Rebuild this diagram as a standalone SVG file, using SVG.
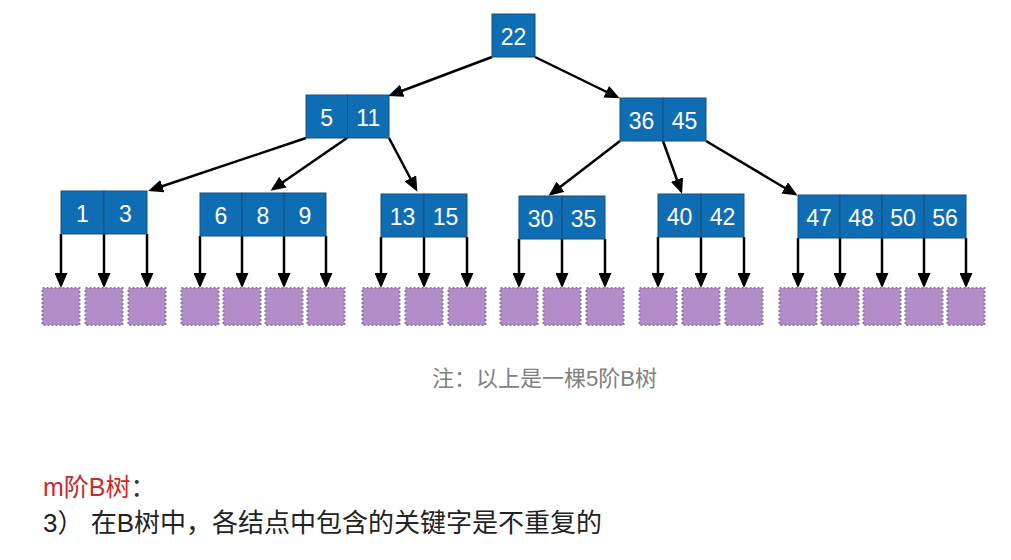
<svg xmlns="http://www.w3.org/2000/svg" width="1011" height="560" viewBox="0 0 1011 560">
<style>
.cell{fill:#0F6DB3;stroke:#17507F;stroke-width:1}
.k{font-family:"Liberation Sans",Arial,sans-serif;font-size:23px;fill:#fff;text-anchor:middle}
.leaf{fill:#B28DCA;stroke:#8B7B96;stroke-width:2;stroke-dasharray:2 2}
.e{stroke:#000;stroke-width:2.5;fill:none;marker-end:url(#ah)}
.t{font-family:"Liberation Sans","Noto Sans CJK SC",sans-serif}
</style>
<defs>
<marker id="ah" markerUnits="userSpaceOnUse" markerWidth="15" markerHeight="13" refX="12" refY="6.5" orient="auto">
<path d="M0,0 L15,6.5 L0,13 z" fill="#000"/>
</marker>
</defs>
<rect width="1011" height="560" fill="#fff"/>
<g id="connectors">
<line class="e" x1="492" y1="57" x2="391" y2="95"/>
<line class="e" x1="535" y1="57" x2="617" y2="97"/>
<line class="e" x1="306" y1="138" x2="151" y2="190"/>
<line class="e" x1="347" y1="138" x2="273" y2="189"/>
<line class="e" x1="389" y1="138" x2="416" y2="189"/>
<line class="e" x1="620" y1="141" x2="551" y2="194"/>
<line class="e" x1="663" y1="141" x2="681" y2="191"/>
<line class="e" x1="706" y1="141" x2="795" y2="194"/>
<g id="down-arrows">
<line class="e" x1="61" y1="234" x2="61" y2="285"/>
<line class="e" x1="104" y1="234" x2="104" y2="285"/>
<line class="e" x1="147" y1="234" x2="147" y2="285"/>
<line class="e" x1="200" y1="236" x2="200" y2="285"/>
<line class="e" x1="242" y1="236" x2="242" y2="285"/>
<line class="e" x1="284" y1="236" x2="284" y2="285"/>
<line class="e" x1="326" y1="236" x2="326" y2="285"/>
<line class="e" x1="381" y1="237" x2="381" y2="285"/>
<line class="e" x1="424" y1="237" x2="424" y2="285"/>
<line class="e" x1="467" y1="237" x2="467" y2="285"/>
<line class="e" x1="519" y1="239" x2="519" y2="285"/>
<line class="e" x1="562" y1="239" x2="562" y2="285"/>
<line class="e" x1="605" y1="239" x2="605" y2="285"/>
<line class="e" x1="658" y1="237" x2="658" y2="285"/>
<line class="e" x1="701" y1="237" x2="701" y2="285"/>
<line class="e" x1="744" y1="237" x2="744" y2="285"/>
<line class="e" x1="798" y1="238" x2="798" y2="285"/>
<line class="e" x1="840" y1="238" x2="840" y2="285"/>
<line class="e" x1="882" y1="238" x2="882" y2="285"/>
<line class="e" x1="924" y1="238" x2="924" y2="285"/>
<line class="e" x1="966" y1="238" x2="966" y2="285"/>
</g>
</g>
<g id="node-22">
<rect class="cell" x="492" y="14" width="43" height="43"/>
<text class="k" x="513.5" y="44.5">22</text>
</g>
<g id="node-5-11">
<rect class="cell" x="306" y="95" width="41.5" height="43"/>
<rect class="cell" x="347.5" y="95" width="41.5" height="43"/>
<text class="k" x="326.75" y="125.5">5</text>
<text class="k" x="368.25" y="125.5">11</text>
</g>
<g id="node-36-45">
<rect class="cell" x="620" y="98" width="43" height="43"/>
<rect class="cell" x="663" y="98" width="43" height="43"/>
<text class="k" x="641.5" y="128.5">36</text>
<text class="k" x="684.5" y="128.5">45</text>
</g>
<g id="node-1-3">
<rect class="cell" x="61" y="191" width="43" height="43"/>
<rect class="cell" x="104" y="191" width="43" height="43"/>
<text class="k" x="82.5" y="221.5">1</text>
<text class="k" x="125.5" y="221.5">3</text>
</g>
<g id="node-6-8-9">
<rect class="cell" x="200" y="193" width="42" height="43"/>
<rect class="cell" x="242" y="193" width="42" height="43"/>
<rect class="cell" x="284" y="193" width="42" height="43"/>
<text class="k" x="221" y="223.5">6</text>
<text class="k" x="263" y="223.5">8</text>
<text class="k" x="305" y="223.5">9</text>
</g>
<g id="node-13-15">
<rect class="cell" x="381" y="194" width="43" height="43"/>
<rect class="cell" x="424" y="194" width="43" height="43"/>
<text class="k" x="402.5" y="224.5">13</text>
<text class="k" x="445.5" y="224.5">15</text>
</g>
<g id="node-30-35">
<rect class="cell" x="519" y="196" width="43" height="43"/>
<rect class="cell" x="562" y="196" width="43" height="43"/>
<text class="k" x="540.5" y="226.5">30</text>
<text class="k" x="583.5" y="226.5">35</text>
</g>
<g id="node-40-42">
<rect class="cell" x="658" y="194" width="43" height="43"/>
<rect class="cell" x="701" y="194" width="43" height="43"/>
<text class="k" x="679.5" y="224.5">40</text>
<text class="k" x="722.5" y="224.5">42</text>
</g>
<g id="node-47-48-50-56">
<rect class="cell" x="798" y="195" width="42" height="43"/>
<rect class="cell" x="840" y="195" width="42" height="43"/>
<rect class="cell" x="882" y="195" width="42" height="43"/>
<rect class="cell" x="924" y="195" width="42" height="43"/>
<text class="k" x="819" y="225.5">47</text>
<text class="k" x="861" y="225.5">48</text>
<text class="k" x="903" y="225.5">50</text>
<text class="k" x="945" y="225.5">56</text>
</g>
<g id="leaves">
<g id="leaf-1"><rect class="leaf" x="42.5" y="288" width="37" height="37"/></g>
<g id="leaf-2"><rect class="leaf" x="85.5" y="288" width="37" height="37"/></g>
<g id="leaf-3"><rect class="leaf" x="128.5" y="288" width="37" height="37"/></g>
<g id="leaf-4"><rect class="leaf" x="181.5" y="288" width="37" height="37"/></g>
<g id="leaf-5"><rect class="leaf" x="223.5" y="288" width="37" height="37"/></g>
<g id="leaf-6"><rect class="leaf" x="265.5" y="288" width="37" height="37"/></g>
<g id="leaf-7"><rect class="leaf" x="307.5" y="288" width="37" height="37"/></g>
<g id="leaf-8"><rect class="leaf" x="362.5" y="288" width="37" height="37"/></g>
<g id="leaf-9"><rect class="leaf" x="405.5" y="288" width="37" height="37"/></g>
<g id="leaf-10"><rect class="leaf" x="448.5" y="288" width="37" height="37"/></g>
<g id="leaf-11"><rect class="leaf" x="500.5" y="288" width="37" height="37"/></g>
<g id="leaf-12"><rect class="leaf" x="543.5" y="288" width="37" height="37"/></g>
<g id="leaf-13"><rect class="leaf" x="586.5" y="288" width="37" height="37"/></g>
<g id="leaf-14"><rect class="leaf" x="639.5" y="288" width="37" height="37"/></g>
<g id="leaf-15"><rect class="leaf" x="682.5" y="288" width="37" height="37"/></g>
<g id="leaf-16"><rect class="leaf" x="725.5" y="288" width="37" height="37"/></g>
<g id="leaf-17"><rect class="leaf" x="779.5" y="288" width="37" height="37"/></g>
<g id="leaf-18"><rect class="leaf" x="821.5" y="288" width="37" height="37"/></g>
<g id="leaf-19"><rect class="leaf" x="863.5" y="288" width="37" height="37"/></g>
<g id="leaf-20"><rect class="leaf" x="905.5" y="288" width="37" height="37"/></g>
<g id="leaf-21"><rect class="leaf" x="947.5" y="288" width="37" height="37"/></g>
</g>
<g id="texts">
<text class="t" x="432" y="386" font-size="22" fill="#808080">注：以上是一棵5阶B树</text>
<text class="t" x="43" y="496" font-size="25"><tspan fill="#CC2A2A">m阶B树</tspan><tspan fill="#333">：</tspan></text>
<text class="t" x="43" y="532" font-size="26" fill="#222">3） 在B树中，各结点中包含的关键字是不重复的</text>
</g>
</svg>
